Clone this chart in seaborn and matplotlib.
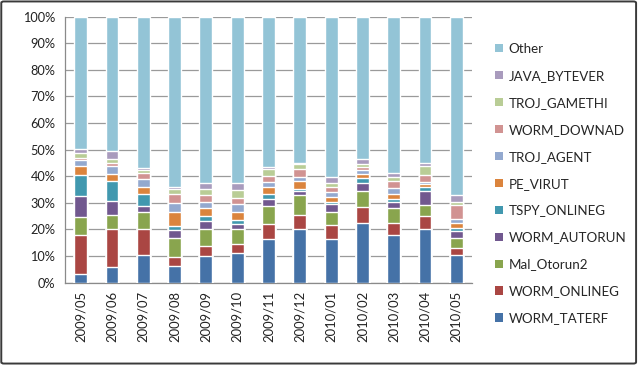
import numpy as np
import pandas as pd
import matplotlib
matplotlib.use("Agg")
import matplotlib.pyplot as plt
import seaborn as sns
from matplotlib.patches import Patch, FancyBboxPatch

# ----------------------------- data (share of detections, %) ----------------------------- #
months = ["2009/05", "2009/06", "2009/07", "2009/08", "2009/09", "2009/10", "2009/11",
          "2009/12", "2010/01", "2010/02", "2010/03", "2010/04", "2010/05"]

worm_taterf  = [3.4, 5.8, 10.4, 6.3, 10.0, 11.0, 16.4, 20.0, 16.4, 22.3, 18.1, 20.0, 10.4]
worm_onlineg = [14.6, 14.3, 9.6, 3.3, 3.8, 3.6, 5.5, 5.4, 5.2, 6.1, 4.2, 5.1, 2.7]
mal_otorun2  = [6.7, 5.3, 6.5, 7.2, 6.2, 5.4, 7.0, 7.4, 5.0, 5.9, 5.6, 4.0, 3.8]
worm_autorun = [7.9, 5.4, 2.4, 3.0, 3.3, 1.9, 2.6, 1.7, 2.9, 3.2, 2.5, 5.2, 2.7]
tspy_onlineg = [7.8, 7.3, 4.4, 1.6, 1.8, 1.6, 1.8, 0.9, 0.9, 2.0, 1.0, 1.6, 1.0]
pe_virut     = [3.4, 2.9, 2.6, 5.2, 3.0, 3.0, 2.5, 2.7, 1.9, 1.4, 2.1, 1.2, 1.9]
troj_agent   = [2.2, 2.8, 3.0, 3.4, 2.3, 3.0, 2.1, 1.7, 1.7, 1.3, 2.1, 0.9, 1.5]
worm_downad  = [0.8, 1.3, 2.4, 3.5, 2.5, 2.4, 2.1, 2.8, 1.8, 1.3, 2.7, 2.5, 5.3]
troj_gamethi = [2.0, 1.5, 1.0, 1.6, 2.5, 2.9, 2.6, 1.9, 1.5, 1.3, 1.5, 3.3, 1.2]
java_bytever = [1.3, 2.8, 0.8, 0.8, 2.1, 2.5, 1.0, 0.4, 2.5, 1.6, 1.4, 1.3, 2.3]
other        = [49.9, 50.6, 56.9, 64.1, 62.5, 62.7, 56.4, 55.1, 60.2, 53.6, 58.8, 54.9, 67.2]

series_names = ["WORM_TATERF", "WORM_ONLINEG", "Mal_Otorun2", "WORM_AUTORUN", "TSPY_ONLINEG",
                "PE_VIRUT", "TROJ_AGENT", "WORM_DOWNAD", "TROJ_GAMETHI", "JAVA_BYTEVER", "Other"]
series_values = [worm_taterf, worm_onlineg, mal_otorun2, worm_autorun, tspy_onlineg,
                 pe_virut, troj_agent, worm_downad, troj_gamethi, java_bytever, other]
colors = ["#4572A7", "#AA4643", "#89A54E", "#71588F", "#4198AF", "#DB843D",
          "#93A9CF", "#D19392", "#B9CD96", "#A99BBD", "#93C4D6"]

# ----------------------------- build long table, normalise to 100% ----------------------------- #
df = pd.DataFrame(dict(zip(series_names, series_values)), index=months)
df = df.div(df.sum(axis=1), axis=0) * 100
cum = df.cumsum(axis=1)
long = cum.reset_index().melt(id_vars="index", var_name="series", value_name="cum")
long = long.rename(columns={"index": "month"})

# ----------------------------- plot ----------------------------- #
sns.set_style("white")
plt.rcParams["font.family"] = ["Lato", "DejaVu Sans"]

fig = plt.figure(figsize=(6.38, 3.65), dpi=100)
ax = fig.add_axes([0.1019, 0.2255, 0.6379, 0.7288])

# draw cumulative tops from the top series down so each one covers the rest
for name, col in zip(reversed(series_names), reversed(colors)):
    sub = long[long["series"] == name]
    sns.barplot(data=sub, x="month", y="cum", color=col, width=0.41,
                saturation=1, order=months, ax=ax, zorder=3)

ax.set_ylim(0, 100)
ax.set_xlim(-0.5, len(months) - 0.5)
ax.set_yticks(np.arange(0, 101, 10))
ax.set_yticklabels([f"{v}%" for v in range(0, 101, 10)], fontsize=9.2, color="#222222")
ax.yaxis.grid(True, color="#9a9a9a", linewidth=0.9, zorder=0)
ax.set_axisbelow(True)
ax.set_xlabel("")
ax.set_ylabel("")

ax.set_xticks(range(len(months)))
ax.set_xticklabels(months, rotation=90, fontsize=9.4, color="#222222")
ax.set_xticks(np.arange(-0.5, len(months), 1), minor=True)
ax.tick_params(axis="x", which="major", length=0, pad=6)
ax.tick_params(axis="x", which="minor", length=4, color="#8a8a8a", width=0.9)
ax.tick_params(axis="y", length=4, color="#8a8a8a", width=0.9, pad=3)

for side in ["top", "right"]:
    ax.spines[side].set_visible(False)
for side in ["left", "bottom"]:
    ax.spines[side].set_color("#8a8a8a")
    ax.spines[side].set_linewidth(0.9)

# legend, Other on top
handles = [Patch(facecolor=c, edgecolor="none") for c in reversed(colors)]
fig.legend(handles, list(reversed(series_names)), loc="upper left",
           bbox_to_anchor=(0.768, 0.897), frameon=False, fontsize=9.6,
           handlelength=0.58, handleheight=0.58, handletextpad=0.4,
           labelspacing=1.12, borderaxespad=0)

# outer chart border
fig.patches.append(FancyBboxPatch((0.002, 0.004), 0.995, 0.992,
                                  boxstyle="round,pad=0,rounding_size=0.004",
                                  transform=fig.transFigure, facecolor="none",
                                  edgecolor="#3a3a3a", linewidth=1.4))

fig.savefig("out.png", dpi=100)
